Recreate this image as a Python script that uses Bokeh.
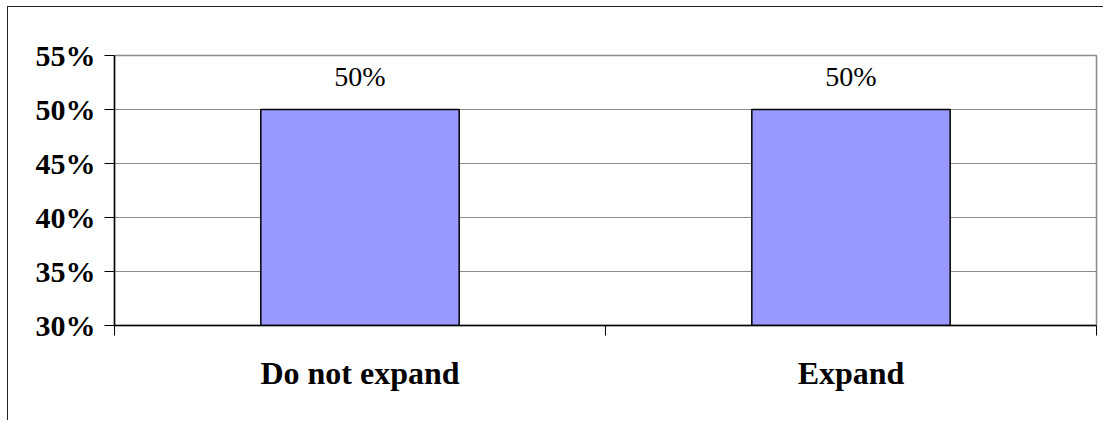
from bokeh.plotting import figure
from bokeh.models import ColumnDataSource, FixedTicker, Range1d, NumeralTickFormatter
from bokeh.core.properties import value
from bokeh.embed import file_html
from bokeh.resources import INLINE

# Survey answer shares
categories = ["Do not expand", "Expand"]
shares = [0.50, 0.50]
bar_labels = ["50%", "50%"]

y_min, y_max, y_step = 0.30, 0.55, 0.05
y_ticks = [round(y_min + i * y_step, 2) for i in range(6)]

x_centers = [i + 0.5 for i in range(len(categories))]
x_bounds = [float(i) for i in range(len(categories) + 1)]

source = ColumnDataSource(dict(x=x_centers, top=shares, label=bar_labels))

SERIF = "Liberation Serif"

p = figure(
    width=1096, height=414,
    x_range=Range1d(0, len(categories)),
    y_range=Range1d(y_min, y_max),
    output_backend="svg", toolbar_location=None,
    min_border_left=106, min_border_right=8,
    min_border_top=48, min_border_bottom=96,
)
p.margin = (6, 0, 0, 7)
p.styles = {"border-top": "1px solid #222", "border-left": "1px solid #222"}

p.background_fill_color = "white"
p.border_fill_color = "white"
p.outline_line_color = "#8c8c8c"
p.outline_line_width = 1.5

p.vbar(x="x", top="top", bottom=y_min, width=0.404, source=source,
       fill_color="#9999ff", line_color="black", line_width=1.5)

p.text(x="x", y="top", text="label", source=source,
       text_font=value(SERIF), text_font_size="28px", text_color="black",
       text_align="center", text_baseline="alphabetic", y_offset=-33)

# y axis
p.yaxis.ticker = FixedTicker(ticks=y_ticks)
p.yaxis.formatter = NumeralTickFormatter(format="0%")
p.yaxis.major_label_text_font = SERIF
p.yaxis.major_label_text_font_style = "bold"
p.yaxis.major_label_text_font_size = "30px"
p.yaxis.major_label_text_color = "black"
p.yaxis.major_tick_out = 10
p.yaxis.major_tick_in = 0
p.yaxis.minor_tick_out = 0
p.yaxis.minor_tick_in = 0
p.yaxis.major_label_standoff = 9
p.yaxis.axis_line_color = "black"
p.yaxis.axis_line_width = 1.5
p.yaxis.major_tick_line_color = "black"

# x axis: category names at bar centres, tick marks at category boundaries
p.xaxis.ticker = FixedTicker(ticks=x_centers, minor_ticks=x_bounds)
p.xaxis.major_label_overrides = {x: c for x, c in zip(x_centers, categories)}
p.xaxis.major_label_text_font = SERIF
p.xaxis.major_label_text_font_style = "bold"
p.xaxis.major_label_text_font_size = "32px"
p.xaxis.major_label_text_color = "black"
p.xaxis.major_tick_out = 0
p.xaxis.major_tick_in = 0
p.xaxis.minor_tick_out = 10
p.xaxis.minor_tick_in = 0
p.xaxis.minor_tick_line_color = "black"
p.xaxis.major_label_standoff = 19
p.xaxis.axis_line_color = "black"
p.xaxis.axis_line_width = 1.5

p.xgrid.grid_line_color = None
p.ygrid.ticker = FixedTicker(ticks=y_ticks)
p.ygrid.grid_line_color = "#8c8c8c"
p.ygrid.grid_line_width = 1

open("out.html", "w").write(file_html(p, INLINE))
